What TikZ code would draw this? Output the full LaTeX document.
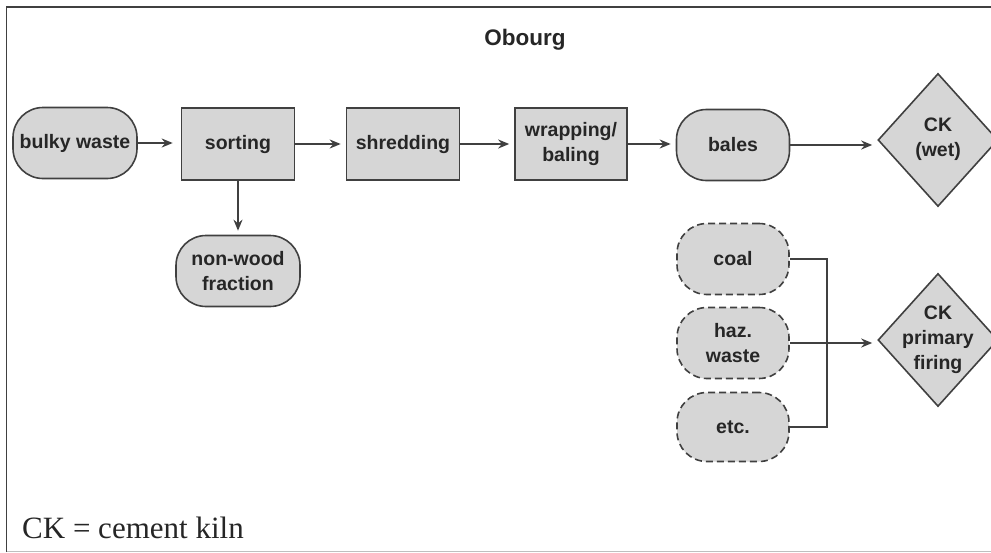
\documentclass[tikz,border=0pt]{standalone}
\usepackage{fontspec}
\setmainfont{Liberation Serif}
\newfontfamily\boxfont{Liberation Sans}
\usetikzlibrary{shapes.geometric,arrows.meta}

\definecolor{boxfill}{HTML}{D6D6D6}
\definecolor{edge}{HTML}{404040}
\definecolor{ink}{HTML}{262626}

\tikzset{
  lbl/.style={text=ink, font=\boxfont\bfseries\fontsize{19.5}{25}\selectfont, align=center, inner sep=0pt},
  proc/.style={lbl, draw=edge, line width=1.6pt, fill=boxfill, rectangle,
               minimum width=113pt, minimum height=72pt},
  term/.style={lbl, draw=edge, line width=1.6pt, fill=boxfill, rectangle,
               rounded corners=30pt, minimum width=#1, minimum height=71pt},
  term/.default=113pt,
  fuel/.style={term=112pt, dash pattern=on 7pt off 4pt},
  kiln/.style={draw=edge, line width=1.6pt, fill=boxfill, diamond,
               minimum width=120pt, minimum height=133pt, inner sep=0pt},
  flow/.style={draw=edge, line width=1.9pt, -{Stealth[length=11pt,width=9pt]}, shorten >=5pt},
  busline/.style={draw=edge, line width=1.9pt},
}

\begin{document}
\begin{tikzpicture}[x=1pt, y=-1pt]
\useasboundingbox (0,0) rectangle (991,552);

% frame
\draw[edge, line width=1.8pt] (6.5,552) -- (6.5,7) -- (991,7);
\draw[black!25, line width=1pt] (6.5,551) -- (991,551);

% title
\node[lbl, font=\boxfont\bfseries\fontsize{22.5}{26}\selectfont, anchor=base] (title) at (525,45) {Obourg};

% main processing line
\node[term=124pt] (bulky) at (75,143) {bulky waste};
\node[proc] (sorting) at (238,144) {sorting};
\node[proc] (shred) at (403,144) {shredding};
\node[proc, minimum width=112pt] (wrap) at (571,144) {wrapping/\\baling};
\node[term] (bales) at (733,145) {bales};
\node[kiln] (ckwet) at (938,140) {};
\node[lbl] (ckwettxt) at (938,139) {CK\\(wet)};

\node[term=124pt] (nonwood) at (238,271) {non-wood\\fraction};

% conventional fuels
\node[fuel] (coal) at (733,259) {coal};
\node[fuel] (haz) at (733,343) {haz.\\waste};
\node[fuel, minimum height=69pt] (etc) at (733,427) {etc.};
\node[kiln] (ckpf) at (938,340) {};
\node[lbl] (ckpftxt) at (938,340) {CK\\primary\\firing};

% connectors
\draw[flow, shorten >=8pt] (bulky.east) -- (bulky.east -| sorting.west);
\draw[flow] (sorting.east) -- (sorting.east -| shred.west);
\draw[flow] (shred.east) -- (shred.east -| wrap.west);
\draw[flow] (wrap.east) -- (wrap.east -| bales.west);
\draw[flow] (bales.east) -- (bales.east -| ckwet.west);
\draw[flow, shorten >=4pt] (sorting.south) -- (nonwood.north);

\coordinate (bus) at (827,0);
\draw[busline] (coal.east) -- (coal.east -| bus) -- (etc.east -| bus) -- (etc.east);
\draw[flow] (haz.east) -- (haz.east -| ckpf.west);

% legend
\node[anchor=base west, text=ink, font=\fontsize{31}{36}\selectfont, inner sep=0pt] (legend) at (22,538) {CK = cement kiln};
\end{tikzpicture}
\end{document}
